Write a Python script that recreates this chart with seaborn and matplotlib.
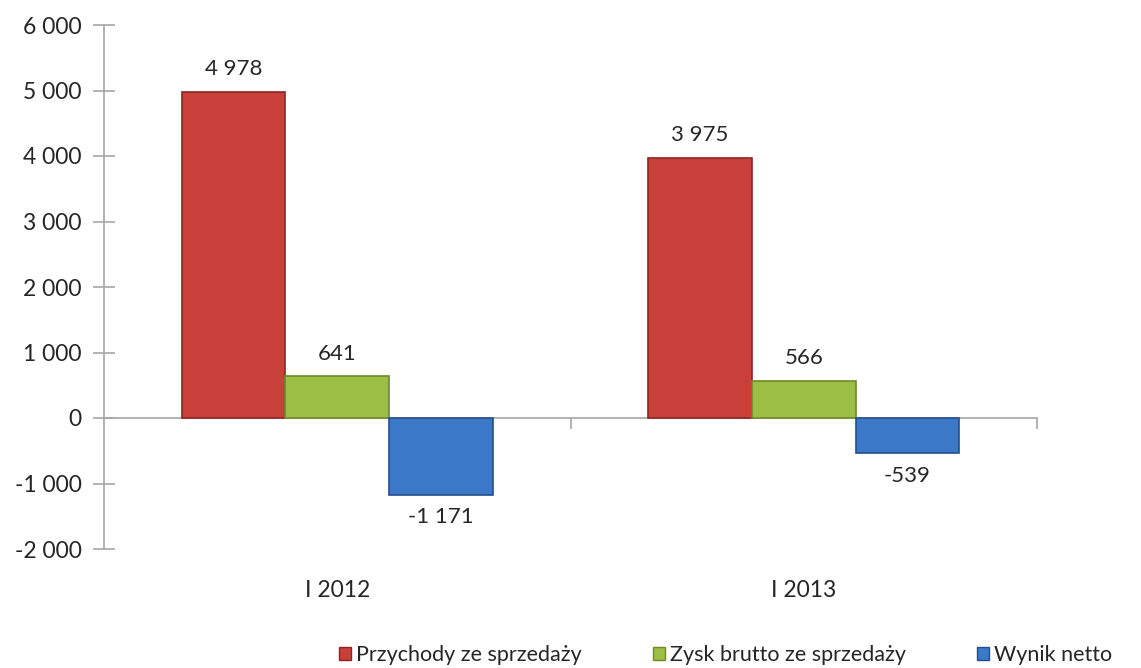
import matplotlib
matplotlib.use("Agg")
import matplotlib.pyplot as plt
import matplotlib.ticker as mticker
from matplotlib.patches import Patch
import seaborn as sns
import pandas as pd

categories = ["I 2012", "I 2013"]
series = ["Przychody ze sprzedaży", "Zysk brutto ze sprzedaży", "Wynik netto"]
przychody = [4978, 3975]
zysk_brutto = [641, 566]
wynik_netto = [-1171, -539]
colors = ["#C93F3A", "#9DBE45", "#3B78C7"]
edge_colors = ["#8E2522", "#6E8A2A", "#245089"]
yticks = [-2000, -1000, 0, 1000, 2000, 3000, 4000, 5000, 6000]

rows = []
for s, vals in zip(series, [przychody, zysk_brutto, wynik_netto]):
    for c, v in zip(categories, vals):
        rows.append({"okres": c, "seria": s, "wartosc": v})
df = pd.DataFrame(rows)

sns.set_style("white")
plt.rcParams["font.family"] = ["Lato", "DejaVu Sans"]

fig = plt.figure(figsize=(11.41, 6.68), dpi=100)
ax = fig.add_axes([104 / 1141, 1 - 549 / 668, (1037 - 104) / 1141, (549 - 25) / 668])

sns.barplot(data=df, x="okres", y="wartosc", hue="seria", order=categories,
            hue_order=series, palette=colors, width=0.667, gap=0,
            saturation=1, ax=ax, legend=False)

for cont, ec in zip(ax.containers, edge_colors):
    for p in cont.patches:
        p.set_edgecolor(ec)
        p.set_linewidth(1.2)
    ax.bar_label(cont, labels=[f"{v:,.0f}".replace(",", " ") for v in cont.datavalues],
                 padding=9, fontsize=16, color="#262626")

ax.set_xlim(-0.5, 1.5)
ax.set_ylim(-2000, 6000)
ax.set_yticks(yticks)
ax.yaxis.set_major_formatter(mticker.FuncFormatter(lambda v, p: f"{v:,.0f}".replace(",", " ")))
ax.set_xlabel("")
ax.set_ylabel("")

for s in ["top", "right", "bottom"]:
    ax.spines[s].set_visible(False)
ax.spines["left"].set_color("#A6A6A6")
ax.spines["left"].set_linewidth(1.2)
ax.tick_params(axis="y", left=True, direction="inout", length=16, width=1.2, color="#A6A6A6",
               labelsize=16.5, labelcolor="#262626", pad=8)
ax.tick_params(axis="x", length=0, labelsize=16.5, labelcolor="#262626", pad=22)

sec = ax.secondary_xaxis(0.25)
sec.set_xticks([0.5, 1.5])
sec.set_xticklabels(["", ""])
sec.spines["bottom"].set_color("#A6A6A6")
sec.spines["bottom"].set_linewidth(1.2)
sec.tick_params(axis="x", direction="out", length=8, width=1.2, color="#A6A6A6")

handles = [Patch(facecolor=c, edgecolor=e, label=s) for c, e, s in zip(colors, edge_colors, series)]
fig.legend(handles=handles, loc="lower left", bbox_to_anchor=(0.280, -0.025), ncol=3,
           frameon=False, fontsize=15.5, handlelength=0.55, handleheight=0.55,
           handletextpad=0.25, columnspacing=3.3, labelcolor="#262626")

fig.savefig("out.png", dpi=100)
